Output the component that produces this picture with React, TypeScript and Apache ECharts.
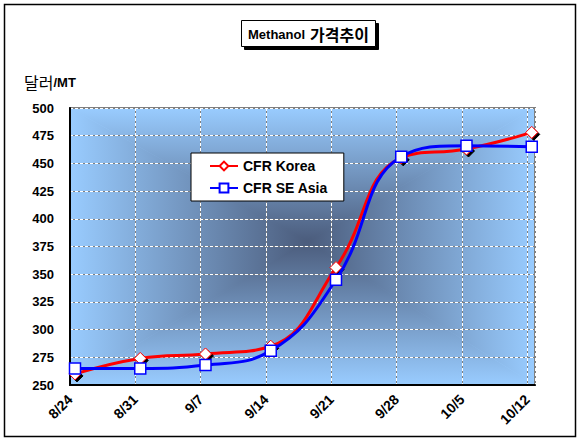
import React, { useEffect, useRef } from "react";
import * as echarts from "echarts";

const categories = ["8/24", "8/31", "9/7", "9/14", "9/21", "9/28", "10/5", "10/12"];
const cfrKorea = [260, 274, 278, 285, 356, 455, 463, 478];
const cfrSEAsia = [265, 265, 268, 281, 345, 456, 466, 465];
const yMin = 250;
const yMax = 500;
const yStep = 25;

const LIGHT = "#99ccff";
const DARK = "#4b5c7c";

export default function App() {
  const ref = useRef<HTMLDivElement>(null);
  useEffect(() => {
    if (!ref.current) return;
    const chart = echarts.init(ref.current, null, { renderer: "svg" });
    const gl = 70, gt = 108, gw = 465, gh = 277;
    const cx = gl + gw / 2 + 5, cy = gt + gh / 2 - 5;
    const lin = (x: number, y: number, x2: number, y2: number, c0: string, c1: string) => ({
      type: "linear", x, y, x2, y2,
      colorStops: [{ offset: 0, color: c0 }, { offset: 1, color: c1 }],
    });
    const tri = (pts: number[][], fill: any) => ({
      type: "polygon", z: -10, silent: true,
      shape: { points: pts },
      style: { fill, stroke: null },
    });
    const font = "'Liberation Sans', Arial, sans-serif";
    const option: any = {
      animation: false,
      backgroundColor: "#ffffff",
      title: {
        text: "{a|Methanol} {b|가격추이}",
        left: 241,
        top: 20,
        padding: [5, 7, 4, 7],
        borderColor: "#000",
        borderWidth: 1,
        backgroundColor: "#fff",
        shadowColor: "#000",
        shadowOffsetX: 3,
        shadowOffsetY: 3,
        shadowBlur: 0,
        textStyle: {
          rich: {
            a: { fontFamily: font, fontWeight: "bold", fontSize: 13, color: "#000" },
            b: { fontFamily: "'Noto Sans CJK KR'", fontSize: 16, color: "#000" },
          },
        },
      },
      legend: {
        orient: "vertical",
        left: 191,
        top: 153,
        backgroundColor: "#fff",
        borderColor: "#000",
        borderWidth: 1,
        padding: [6, 16, 6, 18],
        itemGap: 8,
        itemWidth: 28,
        itemHeight: 11,
        textStyle: { fontFamily: font, fontWeight: "bold", fontSize: 14, color: "#000" },
        data: ["CFR Korea", "CFR SE Asia"],
      },
      grid: {
        left: gl,
        top: gt,
        width: gw,
        height: gh,
        show: true,
        backgroundColor: "transparent",
        borderColor: "#808080",
        borderWidth: 2,
      },
      graphic: [
        {
          type: "rect", z: -11, silent: true,
          shape: { x: gl, y: gt, width: gw, height: gh },
          style: { fill: { type: "radial", x: 0.5, y: 0.5, r: 0.6, colorStops: [{ offset: 0, color: DARK }, { offset: 1, color: LIGHT }] } },
        },
        tri([[gl, gt], [gl + gw, gt], [cx, cy]], lin(0, 0, 0, 1, LIGHT, DARK)),
        tri([[gl, gt + gh], [gl + gw, gt + gh], [cx, cy]], lin(0, 0, 0, 1, DARK, LIGHT)),
        tri([[gl, gt], [gl, gt + gh], [cx, cy]], lin(0, 0, 1, 0, LIGHT, DARK)),
        tri([[gl + gw, gt], [gl + gw, gt + gh], [cx, cy]], lin(0, 0, 1, 0, DARK, LIGHT)),
        {
          type: "rect", z: 10, silent: true,
          shape: { x: 4.5, y: 4.5, width: 571, height: 432 },
          style: { fill: null, stroke: "#000", lineWidth: 1.5 },
        },
        {
          type: "text", left: 24, top: 74, z: 10,
          style: {
            text: "{k|달러}{m|/MT}",
            rich: {
              k: { fontFamily: "'Noto Sans CJK KR'", fontSize: 16, fill: "#000" },
              m: { fontFamily: font, fontWeight: "bold", fontSize: 13, fill: "#000" },
            },
          },
        },
      ],
      xAxis: [
        {
          type: "value",
          min: 0,
          max: 7.12,
          interval: 1,
          position: "bottom",
          axisLine: { show: true, onZero: false, lineStyle: { color: "#000", width: 2 } },
          axisTick: { show: false },
          axisLabel: {
            rotate: 45,
            margin: 12,
            showMaxLabel: false,
            fontFamily: font,
            fontWeight: "bold",
            fontSize: 14,
            color: "#000",
            formatter: (v: number) => (Number.isInteger(v) && categories[v] ? categories[v] : ""),
          },
          splitLine: { show: true, lineStyle: { color: "#808080", width: 1 } },
        },
        {
          type: "value",
          show: false,
          min: -0.0766,
          max: 7.05,
          splitLine: { show: false },
        },
        {
          type: "value",
          min: 0,
          max: 7.12,
          interval: 1,
          axisLine: { show: false },
          axisTick: { show: false },
          axisLabel: { show: false },
          splitLine: { show: true, lineStyle: { color: "#ffffff", width: 1, type: [3, 2] } },
        },
      ],
      yAxis: [
        {
          type: "value",
          min: yMin,
          max: yMax,
          interval: yStep,
          axisLine: { show: true, onZero: false, lineStyle: { color: "#000", width: 2 } },
          axisTick: { show: false },
          axisLabel: { margin: 16, fontFamily: font, fontWeight: "bold", fontSize: 13, color: "#000" },
          splitLine: { show: true, lineStyle: { color: "#808080", width: 1 } },
        },
        {
          type: "value",
          min: yMin,
          max: yMax,
          interval: yStep,
          axisLine: { show: false },
          axisTick: { show: false },
          axisLabel: { show: false },
          splitLine: { show: true, lineStyle: { color: "#ffffff", width: 1, type: [3, 2] } },
        },
      ],
      series: [
        {
          type: "line",
          name: "CFR Korea",
          xAxisIndex: 1,
          yAxisIndex: 0,
          data: cfrKorea.map((v, i) => [i, v]),
          smooth: 0.45,
          symbol: "diamond",
          symbolSize: 12,
          lineStyle: { color: "#ff0000", width: 3 },
          itemStyle: {
            color: "#ffffff",
            borderColor: "#ff0000",
            borderWidth: 1,
            shadowColor: "#000",
            shadowOffsetX: 2,
            shadowOffsetY: 2,
            shadowBlur: 0,
          },
          z: 3,
        },
        {
          type: "line",
          name: "CFR SE Asia",
          xAxisIndex: 1,
          yAxisIndex: 0,
          data: cfrSEAsia.map((v, i) => [i, v]),
          smooth: 0.45,
          symbol: "rect",
          symbolSize: 11,
          lineStyle: { color: "#0000ff", width: 3 },
          itemStyle: {
            color: "#ffffff",
            borderColor: "#0000ff",
            borderWidth: 1.5,
          },
          z: 4,
        },
      ],
    };
    chart.setOption(option);
    return () => chart.dispose();
  }, []);
  return (
    <div
      ref={ref}
      style={{ position: "absolute", left: 0, top: 0, width: 579, height: 441 }}
    />
  );
}
